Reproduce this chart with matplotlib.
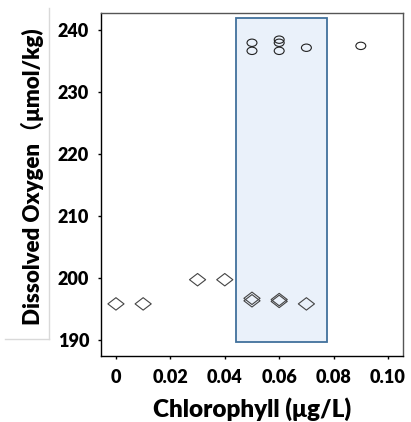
import matplotlib.pyplot as plt
from matplotlib.patches import Rectangle
from matplotlib.markers import MarkerStyle
from matplotlib.transforms import Affine2D
from matplotlib.lines import Line2D

# open circles (upper group)
circ_x = [0.05, 0.05, 0.06, 0.06, 0.06, 0.07, 0.09]
circ_y = [237.9, 236.6, 238.4, 237.9, 236.6, 237.1, 237.4]

# open diamonds (lower group)
diam_x = [0.0, 0.01, 0.03, 0.04, 0.05, 0.05, 0.06, 0.06, 0.07]
diam_y = [195.8, 195.8, 199.7, 199.7, 196.7, 196.3, 196.5, 196.2, 195.8]

# highlighted range
box_x = [0.0441, 0.0776]
box_y = [189.6, 241.9]

xticks = [0, 0.02, 0.04, 0.06, 0.08, 0.10]
xticklabels = ['0', '0.02', '0.04', '0.06', '0.08', '0.10']
yticks = [190, 200, 210, 220, 230, 240]

plt.rcParams['font.family'] = ['Lato', 'Noto Sans CJK SC', 'DejaVu Sans']
plt.rcParams['font.weight'] = 'heavy'

fig = plt.figure(figsize=(4.11, 4.22), dpi=100)
ax = fig.add_axes([0.2457, 0.1564, 0.7348, 0.8128])

ax.add_patch(Rectangle((box_x[0], box_y[0]), box_x[1] - box_x[0], box_y[1] - box_y[0],
                       facecolor='#eaf1fa', edgecolor='#41719c', linewidth=1.3, zorder=1))

ell = MarkerStyle('o', transform=Affine2D().scale(1.35, 1.0))
ax.scatter(circ_x, circ_y, marker=ell, s=28, facecolors='none',
           edgecolors='#222222', linewidths=0.8, zorder=3)
dia = MarkerStyle('D', transform=Affine2D().scale(1.3, 1.0))
ax.scatter(diam_x, diam_y, marker=dia, s=40, facecolors='none',
           edgecolors='#444444', linewidths=0.8, zorder=3)

ax.set_xlim(-0.0055, 0.1055)
ax.set_ylim(187.4, 242.7)
ax.set_xticks(xticks)
ax.set_xticklabels(xticklabels)
ax.set_yticks(yticks)
ax.tick_params(axis='both', labelsize=13, length=2.5, width=1, direction='out')
ax.tick_params(axis='x', pad=7)
ax.tick_params(axis='y', pad=6)
for lab in ax.get_xticklabels() + ax.get_yticklabels():
    lab.set_fontweight('heavy')

ax.spines['left'].set_color('black')
ax.spines['bottom'].set_color('black')
ax.spines['top'].set_color('#555555')
ax.spines['right'].set_color('#555555')
for s in ax.spines.values():
    s.set_linewidth(1)

ax.set_xlabel('Chlorophyll (μg/L)', fontsize=17.5, fontweight='heavy', labelpad=8)
ax.set_ylabel('Dissolved Oxygen（μmol/kg)', fontsize=16, fontweight='heavy')
ax.yaxis.set_label_coords(-0.19, 0.523)

# faint frame left over around the y label
fig.add_artist(Line2D([49 / 411, 49 / 411], [1 - 339 / 422, 1 - 8 / 422], color='#d9d9d9', linewidth=1))
fig.add_artist(Line2D([5 / 411, 49 / 411], [1 - 339 / 422, 1 - 339 / 422], color='#d9d9d9', linewidth=1))

fig.savefig('out.png', dpi=100)
